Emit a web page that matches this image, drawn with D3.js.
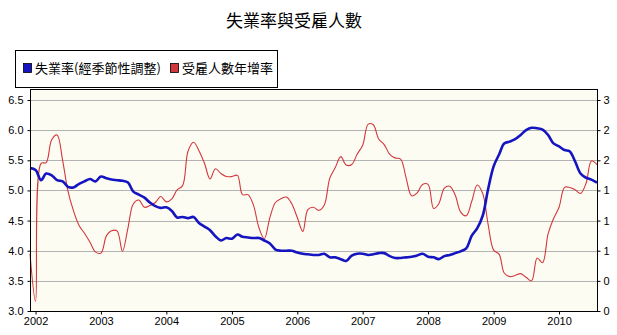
<!DOCTYPE html>
<html>
<head>
<meta charset="utf-8">
<script src="https://cdn.jsdelivr.net/npm/d3@7"></script>
<style>
  html, body { margin: 0; padding: 0; background: #ffffff; }
  svg { display: block; }
</style>
</head>
<body>
<svg id="chart" width="617" height="335"></svg>
<script>
// ---------------- DATA ----------------
const title = "失業率與受雇人數";
const seriesNames = ["失業率(經季節性調整)", "受雇人數年增率"];
const startMonth = "2001-12";   // first monthly observation
const endMonth = "2010-08";     // last monthly observation

// Unemployment rate, seasonally adjusted (left axis, %), monthly Dec 2001 .. Aug 2010
const unemployment = [
  5.37, 5.34, 5.17, 5.28, 5.25, 5.17, 5.15, 5.06, 5.05, 5.11, 5.15, 5.19,
  5.15, 5.23, 5.20, 5.18, 5.17, 5.16, 5.13, 4.98, 4.93, 4.88, 4.80, 4.74,
  4.71, 4.72, 4.66, 4.55, 4.56, 4.54, 4.56, 4.46, 4.40, 4.34, 4.24, 4.17,
  4.21, 4.20, 4.27, 4.23, 4.22, 4.21, 4.21, 4.17, 4.12, 4.02, 4.00, 4.00,
  4.00, 3.97, 3.95, 3.94, 3.93, 3.93, 3.95, 3.89, 3.89, 3.86, 3.83, 3.92,
  3.95, 3.95, 3.93, 3.94, 3.96, 3.96, 3.91, 3.88, 3.88, 3.89, 3.90, 3.92,
  3.95, 3.90, 3.89, 3.86, 3.91, 3.93, 3.96, 3.99, 4.04, 4.25, 4.37, 4.58,
  5.02, 5.40, 5.60, 5.78, 5.81, 5.85, 5.92, 6.00, 6.04, 6.03, 6.01, 5.92,
  5.78, 5.73, 5.67, 5.65, 5.48, 5.28, 5.21, 5.18, 5.13
];

// Employees, year-on-year growth (right axis), monthly Dec 2001 .. Aug 2010
const employeeGrowth = [
  0.95, 0.16, 2.45, 2.46, 2.84, 2.92, 2.50, 1.99, 1.66, 1.42, 1.29, 1.14,
  0.98, 0.96, 1.25, 1.33, 1.33, 0.99, 1.38, 1.78, 1.84, 1.72, 1.75, 1.80,
  1.90, 1.81, 1.86, 2.01, 2.08, 2.65, 2.80, 2.66, 2.45, 2.19, 2.36, 2.28,
  2.23, 2.23, 2.25, 1.93, 1.93, 1.76, 1.38, 1.20, 1.55, 1.80, 1.86, 1.89,
  1.78, 1.55, 1.32, 1.68, 1.72, 1.67, 1.76, 2.20, 2.38, 2.56, 2.42, 2.43,
  2.60, 2.75, 3.10, 3.09, 2.85, 2.76, 2.60, 2.54, 2.52, 2.20, 1.91, 1.96,
  2.10, 2.10, 1.70, 1.78, 2.04, 2.07, 1.92, 1.64, 1.58, 1.82, 2.09, 1.95,
  1.44, 1.01, 0.94, 0.63, 0.57, 0.59, 0.62, 0.56, 0.50, 0.88, 0.80, 1.28,
  1.53, 1.72, 2.05, 2.05, 2.01, 1.95, 2.12, 2.49, 2.43
];

// Axis ticks
const leftTicks = [3.0, 3.5, 4.0, 4.5, 5.0, 5.5, 6.0, 6.5];
const rightTicks = [0, 0.5, 1, 1.5, 2, 2.5, 3, 3.5];
const rightTickLabels = ["0", "0", "1", "1", "1", "2", "2", "3"];
const yearTicks = ["2002", "2003", "2004", "2005", "2006", "2007", "2008", "2009", "2010"];

// ---------------- DRAW ----------------
const svg = d3.select("#chart");
const parseMonth = d3.timeParse("%Y-%m");
const parseYear = d3.timeParse("%Y");
const months = d3.timeMonth.range(parseMonth(startMonth), d3.timeMonth.offset(parseMonth(endMonth), 1));

const plot = { left: 30, right: 597, top: 89, bottom: 311 };

const x = d3.scaleTime()
  .domain([months[0], months[months.length - 1]])
  .range([plot.left, plot.right]);
const yL = d3.scaleLinear().domain([3.0, 6.5]).range([311, 100]);
const yR = d3.scaleLinear().domain([0, 3.5]).range([311, 100]);

const textFont = "'Liberation Sans', Arial, sans-serif";
const cjkFont = "'Noto Sans CJK TC', 'Noto Sans CJK SC', sans-serif";

// Title
svg.append("text")
  .attr("x", 294).attr("y", 27)
  .attr("text-anchor", "middle")
  .attr("font-family", cjkFont)
  .attr("font-size", 17)
  .attr("fill", "#000")
  .text(title);

// Plot background
svg.append("rect")
  .attr("x", plot.left).attr("y", plot.top)
  .attr("width", plot.right - plot.left).attr("height", plot.bottom - plot.top)
  .attr("fill", "#fdfcf3");

// Gridlines
svg.append("g").selectAll("line")
  .data(leftTicks.filter(d => d > 3.0))
  .join("line")
  .attr("x1", plot.left).attr("x2", plot.right)
  .attr("y1", d => Math.round(yL(d)) + 0.5).attr("y2", d => Math.round(yL(d)) + 0.5)
  .attr("stroke", "#b3b3b3").attr("stroke-width", 1.2);

// Lines
const curve = d3.curveCatmullRom.alpha(0.5);
const redLine = d3.line().x((d, i) => x(months[i])).y(d => yR(d)).curve(curve);
const blueLine = d3.line().x((d, i) => x(months[i])).y(d => yL(d)).curve(curve);

svg.append("path")
  .datum(employeeGrowth)
  .attr("d", redLine)
  .attr("fill", "none")
  .attr("stroke", "#d2373c")
  .attr("stroke-width", 1.1);

svg.append("path")
  .datum(unemployment)
  .attr("d", blueLine)
  .attr("fill", "none")
  .attr("stroke", "#1414c0")
  .attr("stroke-width", 2.6)
  .attr("stroke-linejoin", "round");

// Frame
svg.append("rect")
  .attr("x", plot.left + 0.5).attr("y", plot.top + 0.5)
  .attr("width", plot.right - plot.left).attr("height", plot.bottom - plot.top)
  .attr("fill", "none").attr("stroke", "#000").attr("stroke-width", 1);

// Left axis
const leftAxis = d3.axisLeft(yL).tickValues(leftTicks).tickFormat(d3.format(".1f")).tickSize(3).tickSizeOuter(0);
const gL = svg.append("g").attr("transform", `translate(${plot.left + 0.5},0)`).call(leftAxis);
gL.select(".domain").remove();
gL.selectAll("text").attr("font-family", textFont).attr("font-size", 11).attr("fill", "#000").attr("dx", -1);

// Right axis
const rightAxis = d3.axisRight(yR).tickValues(rightTicks).tickFormat((d, i) => rightTickLabels[i]).tickSize(3).tickSizeOuter(0);
const gR = svg.append("g").attr("transform", `translate(${plot.right + 0.5},0)`).call(rightAxis);
gR.select(".domain").remove();
gR.selectAll("text").attr("font-family", textFont).attr("font-size", 11).attr("fill", "#000");

// Bottom axis
const bottomAxis = d3.axisBottom(x)
  .tickValues(yearTicks.map(parseYear))
  .tickFormat(d3.timeFormat("%Y")).tickSize(3).tickSizeOuter(0);
const gB = svg.append("g").attr("transform", `translate(0,${plot.bottom + 0.5})`).call(bottomAxis);
gB.select(".domain").remove();
gB.selectAll("text").attr("font-family", textFont).attr("font-size", 11).attr("fill", "#000");

// Legend
const legend = svg.append("g");
legend.append("rect")
  .attr("x", 15.5).attr("y", 50.5).attr("width", 262).attr("height", 37)
  .attr("fill", "#fff").attr("stroke", "#000");
const legendItems = [
  { name: seriesNames[0], color: "#1414c0", x: 23 },
  { name: seriesNames[1], color: "#d2373c", x: 170 }
];
legendItems.forEach(item => {
  legend.append("rect")
    .attr("x", item.x + 0.5).attr("y", 63.5).attr("width", 8).attr("height", 9)
    .attr("fill", item.color).attr("stroke", "#000").attr("stroke-width", 0.8);
  legend.append("text")
    .attr("x", item.x + 12).attr("y", 73)
    .attr("font-family", cjkFont).attr("font-size", 13)
    .attr("fill", "#000")
    .text(item.name);
});
</script>
</body>
</html>
